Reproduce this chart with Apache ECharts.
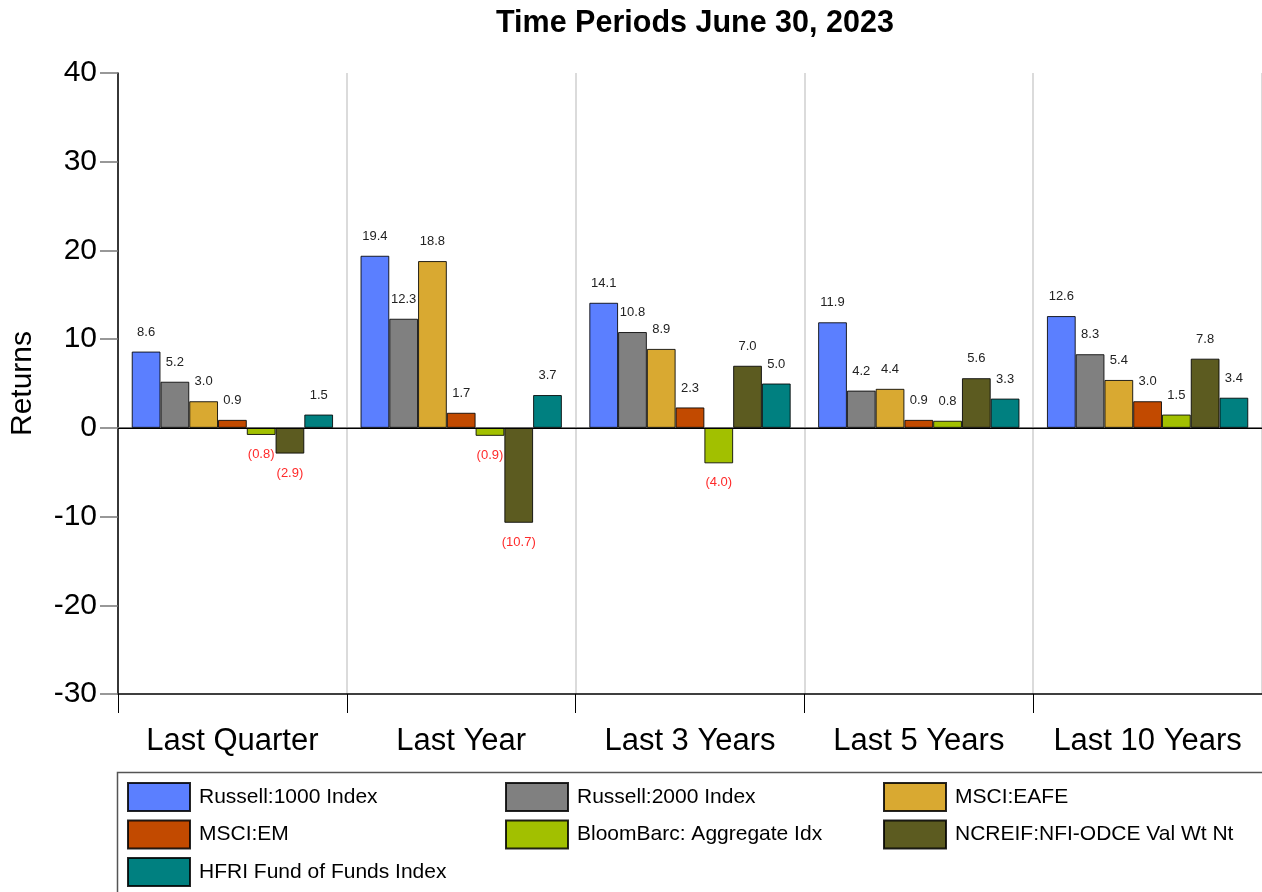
<!DOCTYPE html>
<html>
<head>
<meta charset="utf-8">
<title>Time Periods June 30, 2023</title>
<script src="https://cdn.jsdelivr.net/npm/echarts@6/dist/echarts.min.js"></script>
<style>
  html, body { margin: 0; padding: 0; background: #fff; }
  #main { width: 1262px; height: 892px; }
</style>
</head>
<body>
<div id="main"></div>
<script>
var periods = ['Last Quarter', 'Last Year', 'Last 3 Years', 'Last 5 Years', 'Last 10 Years'];

var russell1000 = [8.6, 19.4, 14.1, 11.9, 12.6];
var russell2000 = [5.2, 12.3, 10.8, 4.2, 8.3];
var msciEafe = [3.0, 18.8, 8.9, 4.4, 5.4];
var msciEm = [0.9, 1.7, 2.3, 0.9, 3.0];
var bloomAgg = [-0.8, -0.9, -4.0, 0.8, 1.5];
var ncreif = [-2.9, -10.7, 7.0, 5.6, 7.8];
var hfri = [1.5, 3.7, 5.0, 3.3, 3.4];

var seriesNames = ['Russell:1000 Index', 'Russell:2000 Index', 'MSCI:EAFE', 'MSCI:EM',
    'BloomBarc: Aggregate Idx', 'NCREIF:NFI-ODCE Val Wt Nt', 'HFRI Fund of Funds Index'];
var seriesValues = [russell1000, russell2000, msciEafe, msciEm, bloomAgg, ncreif, hfri];
var seriesColors = ['#5b7fff', '#808080', '#d9a931', '#c24a00', '#a2c000', '#5c5b20', '#008080'];

var font = '"Liberation Sans", Arial, sans-serif';

function toItems(values) {
    return values.map(function (v) {
        if (v < 0) {
            return { value: v, label: { position: 'bottom', color: '#ff2a2a' } };
        }
        return { value: v };
    });
}

function fmtLabel(p) {
    var v = p.value;
    if (v < 0) return '(' + Math.abs(v).toFixed(1) + ')';
    return v.toFixed(1);
}

var series = seriesNames.map(function (name, i) {
    var s = {
        name: name,
        type: 'bar',
        data: toItems(seriesValues[i]),
        barGap: 0,
        barCategoryGap: '12%',
        itemStyle: { color: seriesColors[i], borderColor: 'rgba(0,0,0,0.85)', borderWidth: 1 },
        label: {
            show: true,
            position: 'top',
            distance: 13,
            formatter: fmtLabel,
            fontFamily: font,
            fontSize: 13,
            color: '#222'
        },
        emphasis: { disabled: true }
    };
    if (i === 0) {
        s.markLine = {
            silent: true,
            symbol: 'none',
            label: { show: false },
            lineStyle: { color: '#000', width: 1, type: 'solid' },
            data: [{ yAxis: 0 }]
        };
    }
    return s;
});

function legendCol(left, names) {
    return {
        orient: 'vertical',
        left: left,
        top: 782,
        padding: 0,
        itemWidth: 62,
        itemHeight: 28,
        itemGap: 7.5,
        icon: 'rect',
        selectedMode: false,
        data: names,
        textStyle: { fontFamily: font, fontSize: 21, color: '#000', padding: [0, 0, 0, 4] }
    };
}

var chart = echarts.init(document.getElementById('main'));

chart.setOption({
    animation: false,
    backgroundColor: '#fff',
    title: {
        text: 'Time Periods June 30, 2023',
        left: 491,
        top: 3,
        textStyle: { fontFamily: font, fontSize: 30.5, fontWeight: 'bold', color: '#000' }
    },
    grid: { left: 118, right: 0, top: 73, bottom: 198, containLabel: false, outerBoundsMode: 'none' },
    legend: [
        legendCol(127, [seriesNames[0], seriesNames[3], seriesNames[6]]),
        legendCol(505, [seriesNames[1], seriesNames[4]]),
        legendCol(883, [seriesNames[2], seriesNames[5]])
    ],
    graphic: [{
        type: 'rect',
        z: -1,
        shape: { x: 117.5, y: 772.5, width: 1200, height: 200 },
        style: { fill: 'none', stroke: '#555', lineWidth: 1.5 }
    }],
    xAxis: [{
        type: 'category',
        data: periods,
        position: 'bottom',
        axisLine: { onZero: false, lineStyle: { color: '#000', width: 1.5 } },
        axisTick: { show: true, length: 19, interval: 0, lineStyle: { color: '#000' } },
        axisLabel: { fontFamily: font, fontSize: 31, color: '#000', margin: 32, interval: 0 },
        splitLine: { show: true, interval: 0, lineStyle: { color: '#cfcfcf', width: 1.5 } }
    }, {
        type: 'category',
        data: periods,
        position: 'top',
        axisLine: { lineStyle: { color: '#777', width: 2 } },
        axisTick: { show: false },
        axisLabel: { show: false },
        splitLine: { show: false }
    }],
    yAxis: {
        type: 'value',
        min: -30,
        max: 40,
        interval: 10,
        name: 'Returns',
        nameLocation: 'middle',
        nameGap: 80,
        nameTextStyle: { fontFamily: font, fontSize: 30, color: '#000' },
        axisLine: { show: true, lineStyle: { color: '#000', width: 1.5 } },
        axisTick: { show: true, length: 18, lineStyle: { color: '#777', width: 1.5 } },
        axisLabel: { fontFamily: font, fontSize: 30, color: '#000', margin: 21 },
        splitLine: { show: false }
    },
    series: series
});
</script>
</body>
</html>
